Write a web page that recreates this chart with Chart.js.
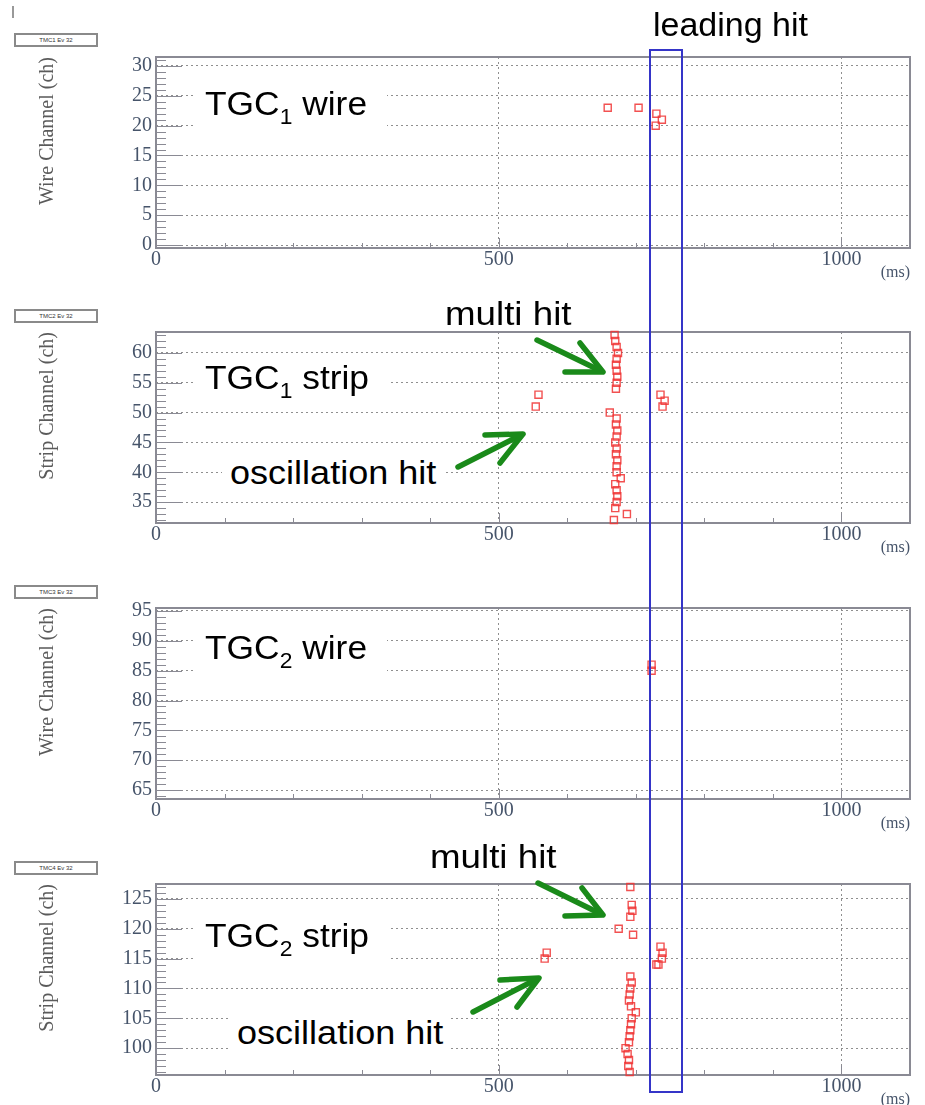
<!DOCTYPE html>
<html>
<head>
<meta charset="utf-8">
<script src="https://cdn.jsdelivr.net/npm/chart.js@4.4.1/dist/chart.umd.min.js"></script>
<style>
  html, body { margin:0; padding:0; background:#fff; }
  body { width:925px; height:1105px; position:relative; overflow:hidden; }
  canvas { position:absolute; left:0; }
  .tmc { position:absolute; left:14px; width:80px; height:10px; border:2px solid #8a8a8a;
         font:6px "Liberation Sans", Arial, sans-serif; color:#333; text-align:center; line-height:10px; background:#fff; }
  .lbl { position:absolute; font:34px "Liberation Sans", Arial, sans-serif; color:#000; line-height:34px; white-space:nowrap; }
  .bg { background:#fff; }
  .lbl sub { font-size:22px; vertical-align:-9px; line-height:0; }
  .w { display:inline-block; transform-origin:left center; }
  svg { position:absolute; left:0; top:0; }
  .cursor { position:absolute; left:12px; top:6px; width:2px; height:12px; background:#999; }
</style>
</head>
<body>
<div class="cursor"></div>

<canvas id="c1" width="925" height="255" style="top:27px"></canvas>
<canvas id="c2" width="925" height="255" style="top:302px"></canvas>
<canvas id="c3" width="925" height="255" style="top:578px"></canvas>
<canvas id="c4" width="925" height="255" style="top:854px"></canvas>

<div class="tmc" style="top:33px">TMC1 Ev 32</div>
<div class="tmc" style="top:309px">TMC2 Ev 32</div>
<div class="tmc" style="top:585px">TMC3 Ev 32</div>
<div class="tmc" style="top:861px">TMC4 Ev 32</div>

<div class="lbl" style="left:653px; top:7px;">leading hit</div>
<div class="lbl bg" style="left:193px; top:82px; padding:4px 26px 8px 12px;"><span class="w" style="transform:scaleX(1.04)">TGC<sub>1</sub> wire</span></div>
<div class="lbl" style="left:445px; top:296px;"><span class="w" style="transform:scaleX(1.08)">multi hit</span></div>
<div class="lbl bg" style="left:193px; top:356px; padding:4px 26px 8px 12px;"><span class="w" style="transform:scaleX(1.04)">TGC<sub>1</sub> strip</span></div>
<div class="lbl bg" style="left:222px; top:453px; padding:2px 18px 4px 8px;"><span class="w" style="transform:scaleX(1.06)">oscillation hit</span></div>
<div class="lbl bg" style="left:193px; top:626px; padding:4px 26px 8px 12px;"><span class="w" style="transform:scaleX(1.04)">TGC<sub>2</sub> wire</span></div>
<div class="lbl" style="left:430px; top:839px;"><span class="w" style="transform:scaleX(1.08)">multi hit</span></div>
<div class="lbl bg" style="left:193px; top:914px; padding:4px 26px 8px 12px;"><span class="w" style="transform:scaleX(1.04)">TGC<sub>2</sub> strip</span></div>
<div class="lbl bg" style="left:229px; top:1013px; padding:2px 18px 4px 8px;"><span class="w" style="transform:scaleX(1.06)">oscillation hit</span></div>

<svg width="925" height="1105">
  <g stroke="#1a8a1a" stroke-width="5.5" fill="none" stroke-linecap="round" stroke-linejoin="round">
    <line x1="537" y1="340" x2="601" y2="371"/>
    <polyline points="580,343 603,372 565,372"/>
    <line x1="458" y1="467" x2="521" y2="435"/>
    <polyline points="500,463 523,434 485,435"/>
    <line x1="538" y1="883" x2="601" y2="914"/>
    <polyline points="582,888 603,915 565,916"/>
    <line x1="473" y1="1012" x2="537" y2="979"/>
    <polyline points="517,1007 539,978 500,980"/>
  </g>
  <rect x="650" y="50" width="32" height="1042" fill="none" stroke="#3535c8" stroke-width="2"/>
</svg>

<script>
// ---- data (time in ms, channel) ----
const p1Time = [659, 704, 730, 738, 729];
const p1Chan = [23, 23, 22, 21, 20];

const p2Time = [669, 670, 672, 674, 672, 671, 672, 673, 672, 671,
                558, 554,
                736, 742, 739,
                662, 672, 671, 673, 672, 670, 672, 671, 673, 672, 672, 678, 670, 672, 673, 672, 670, 687, 668];
const p2Chan = [63, 62, 61, 60, 59, 58, 57, 56, 55, 54,
                53, 51,
                53, 52, 51,
                50, 49, 48, 47, 46, 45, 44, 43, 42, 41, 40, 39, 38, 37, 36, 35, 34, 33, 32];

const p3Time = [723, 723];
const p3Chan = [86, 85];

const p4Time = [692, 694, 695, 692, 675, 696,
                570, 567,
                736, 739, 738, 730, 733,
                692, 694, 692, 691, 690, 693, 700, 694, 693, 692, 691, 690, 685, 688, 690, 689, 691];
const p4Chan = [127, 124, 123, 122, 120, 119,
                116, 115,
                117, 116, 115, 114, 114,
                112, 111, 110, 109, 108, 107, 106, 105, 104, 103, 102, 101, 100, 99, 98, 97, 96];

const timeRange = [0, 1100];
const timeTicks = [0, 500, 1000];
const yRanges = [[-0.5, 31.5], [31.5, 63.5], [63.5, 95.5], [95.5, 127.5]];
const yTicks = [
  [0, 5, 10, 15, 20, 25, 30],
  [35, 40, 45, 50, 55, 60],
  [65, 70, 75, 80, 85, 90, 95],
  [100, 105, 110, 115, 120, 125]
];
const yTitles = ['Wire Channel (ch)', 'Strip Channel (ch)', 'Wire Channel (ch)', 'Strip Channel (ch)'];
const xTitle = '(ms)';

const rootFrame = {
  id: 'rootFrame',
  beforeDatasetsDraw(chart) {
    const { ctx, chartArea: a, scales: { x, y } } = chart;
    ctx.save();
    ctx.strokeStyle = '#8a8a94';
    ctx.lineWidth = 1;
    ctx.beginPath();
    for (let v = Math.ceil(y.min); v <= y.max; v++) {
      const py = Math.round(y.getPixelForValue(v)) + 0.5;
      const len = v % 5 === 0 ? 26 : 10;
      ctx.moveTo(a.left, py); ctx.lineTo(a.left + len, py);
    }
    for (let v = 100; v < x.max; v += 100) {
      const px = Math.round(x.getPixelForValue(v)) + 0.5;
      const len = v % 500 === 0 ? 10 : 5;
      ctx.moveTo(px, a.bottom); ctx.lineTo(px, a.bottom - len);
    }
    ctx.stroke();
    ctx.lineWidth = 2;
    ctx.strokeStyle = '#8a8a94';
    ctx.strokeRect(a.left, a.top, a.right - a.left, a.bottom - a.top);
    ctx.restore();
  }
};

const tickFont = { family: '"Liberation Serif", "DejaVu Serif", serif', size: 20 };
const tickColor = '#46546a';

function makeChart(id, times, chans, yr, yt, ytitle) {
  const pts = times.map((t, i) => ({ x: t, y: chans[i] }));
  return new Chart(document.getElementById(id), {
    type: 'scatter',
    data: {
      datasets: [{
        data: pts,
        pointStyle: 'rect',
        radius: 5,
        borderColor: 'rgba(240,50,50,0.85)',
        backgroundColor: 'rgba(0,0,0,0)',
        borderWidth: 1.4,
        clip: false
      }]
    },
    options: {
      responsive: false,
      animation: false,
      devicePixelRatio: 1,
      layout: { padding: { top: 30, right: 15, left: 0, bottom: 0 } },
      plugins: { legend: { display: false }, tooltip: { enabled: false } },
      scales: {
        x: {
          type: 'linear', min: timeRange[0], max: timeRange[1],
          afterFit(s) { s.height = 34; },
          afterBuildTicks(s) { s.ticks = timeTicks.map(v => ({ value: v })); },
          ticks: { font: tickFont, color: tickColor, padding: 0, maxRotation: 0, autoSkip: false,
                   callback: v => String(v) },
          grid: { color: '#8f8f8f', drawTicks: false },
          border: { display: false, dash: [2, 3] },
          title: { display: true, text: xTitle, align: 'end', color: tickColor,
                   font: { family: '"Liberation Serif", serif', size: 16 }, padding: { top: 0, bottom: 0 } }
        },
        y: {
          type: 'linear', min: yr[0], max: yr[1],
          afterFit(s) { s.width = 156; },
          afterBuildTicks(s) { s.ticks = yt.map(v => ({ value: v })); },
          ticks: { font: tickFont, color: tickColor, padding: 4, autoSkip: false, callback: v => String(v) },
          grid: { color: '#8f8f8f', drawTicks: false },
          border: { display: false, dash: [2, 3] },
          title: { display: true, text: ytitle, align: 'end', color: '#5a5a5a',
                   font: { family: '"Liberation Serif", serif', size: 20 }, padding: { top: 36, bottom: 0 } }
        }
      }
    },
    plugins: [rootFrame]
  });
}

makeChart('c1', p1Time, p1Chan, yRanges[0], yTicks[0], yTitles[0]);
makeChart('c2', p2Time, p2Chan, yRanges[1], yTicks[1], yTitles[1]);
makeChart('c3', p3Time, p3Chan, yRanges[2], yTicks[2], yTitles[2]);
makeChart('c4', p4Time, p4Chan, yRanges[3], yTicks[3], yTitles[3]);
</script>
</body>
</html>
